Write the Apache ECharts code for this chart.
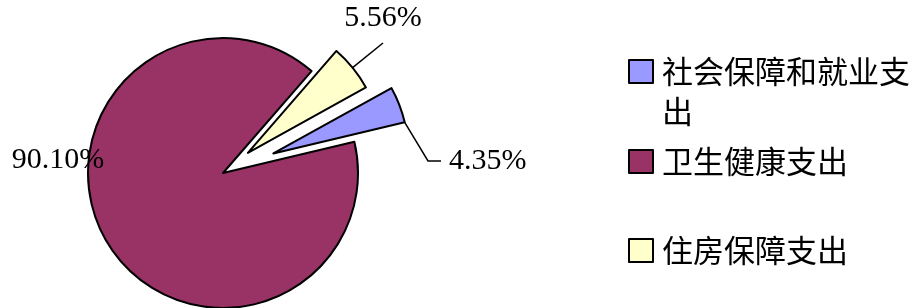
<!DOCTYPE html>
<html>
<head>
<meta charset="utf-8">
<script src="https://cdn.jsdelivr.net/npm/echarts@6/dist/echarts.min.js"></script>
<style>
  html, body { margin: 0; background: #fff; }
  #chart { width: 921px; height: 308px; }
</style>
</head>
<body>
<div id="chart"></div>
<script>
const categories = ['社会保障和就业支出', '卫生健康支出', '住房保障支出'];
const shares = [4.35, 90.10, 5.56];

// look
const colors = ['#9999FF', '#993366', '#FFFFCC'];
const explode = [54, 0, 32];           // px each slice is pulled out
const cx = 223, cy = 173, R = 135, startAngle = 29;
const legendTops = [56, 146, 235];
const labelSpots = [
  { x: 449, y: 161, align: 'left', line: [[428, 161], [441, 161]] },
  { x: 58, y: 160, align: 'center' },
  { x: 383, y: 18, align: 'center', line: [[383, 43]] }
];

const total = shares.reduce((a, b) => a + b, 0);
const rad = d => d * Math.PI / 180;

function sliceAngles(i) {
  let a = startAngle;
  for (let j = 0; j < i; j++) a -= 360 * shares[j] / total;
  return [a, a - 360 * shares[i] / total];
}

function sliceCenter(i) {
  const [s, e] = sliceAngles(i);
  const mid = rad((s + e) / 2);
  return [cx + explode[i] * Math.cos(mid), cy - explode[i] * Math.sin(mid)];
}

// point on the pulled-out slice's rim closest to where the leader line bends
function rimPoint(i, t) {
  const [s, e] = sliceAngles(i);
  const mid = (s + e) / 2;
  const [ox, oy] = sliceCenter(i);
  let ang = Math.atan2(-(t[1] - oy), t[0] - ox) * 180 / Math.PI;
  while (ang > mid + 180) ang -= 360;
  while (ang < mid - 180) ang += 360;
  ang = Math.min(s, Math.max(e, ang));
  return [ox + R * Math.cos(rad(ang)), oy - R * Math.sin(rad(ang))];
}

const hidden = { color: 'rgba(0,0,0,0)', borderWidth: 0 };
const edge = { borderColor: '#000', borderWidth: 2 };

// one pie per slice, each shifted out along its own bisector
const series = categories.map((_, i) => ({
  type: 'pie',
  center: sliceCenter(i),
  radius: R,
  startAngle: startAngle,
  clockwise: true,
  avoidLabelOverlap: false,
  animation: false,
  emphasis: { disabled: true },
  label: {
    fontFamily: 'Liberation Serif',
    fontSize: 30,
    color: '#000',
    formatter: p => p.value.toFixed(2) + '%'
  },
  labelLine: { lineStyle: { color: '#000', width: 1.5 } },
  labelLayout: p => {
    if (p.dataIndex !== i) return {};
    const spot = labelSpots[i];
    const out = { x: spot.x, y: spot.y, align: spot.align, verticalAlign: 'middle' };
    if (spot.line) out.labelLinePoints = [rimPoint(i, spot.line[0])].concat(spot.line);
    return out;
  },
  data: categories.map((name, j) => ({
    name: name,
    value: shares[j],
    itemStyle: j === i ? Object.assign({ color: colors[j] }, edge) : hidden,
    label: { show: j === i },
    labelLine: { show: j === i && !!labelSpots[j].line }
  }))
}));

const legend = categories.map((name, i) => ({
  orient: 'vertical',
  left: 628,
  top: legendTops[i],
  padding: 0,
  icon: 'rect',
  itemWidth: 24,
  itemHeight: 23,
  selectedMode: false,
  itemStyle: { borderColor: '#000', borderWidth: 2 },
  formatter: '{t|{name}}',
  textStyle: {
    width: 250,
    overflow: 'break',
    padding: i === 0 ? [40, 0, 0, 4] : [0, 0, 0, 4],
    rich: {
      t: { fontFamily: 'Noto Sans CJK SC', fontSize: 31, color: '#000', lineHeight: 40 }
    }
  },
  data: [{ name: name, itemStyle: { color: colors[i] } }]
}));

const chart = echarts.init(document.getElementById('chart'));
chart.setOption({
  backgroundColor: '#fff',
  animation: false,
  legend: legend,
  series: series
});
</script>
</body>
</html>
